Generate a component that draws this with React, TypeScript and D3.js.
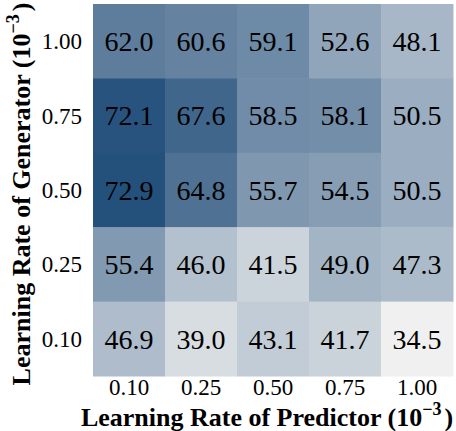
import React, { useEffect, useRef } from 'react';
import * as d3 from 'd3';

const predictorRates = ['0.10', '0.25', '0.50', '0.75', '1.00'];
const generatorRates = ['1.00', '0.75', '0.50', '0.25', '0.10'];

// rows follow generatorRates (top to bottom), columns follow predictorRates
const row100 = [62.0, 60.6, 59.1, 52.6, 48.1];
const row075 = [72.1, 67.6, 58.5, 58.1, 50.5];
const row050 = [72.9, 64.8, 55.7, 54.5, 50.5];
const row025 = [55.4, 46.0, 41.5, 49.0, 47.3];
const row010 = [46.9, 39.0, 43.1, 41.7, 34.5];

const rows = [row100, row075, row050, row025, row010];

const width = 456;
const height = 431;
const serif = 'Liberation Serif, Times New Roman, Times, serif';

const App: React.FC = () => {
  const svgRef = useRef<SVGSVGElement>(null);

  useEffect(() => {
    if (!svgRef.current) return;
    const svg = d3.select(svgRef.current);
    svg.selectAll('*').remove();

    const margin = { top: 4, right: 3, bottom: 55, left: 93 };
    const innerWidth = width - margin.left - margin.right;
    const innerHeight = height - margin.top - margin.bottom;

    const g = svg.append('g')
      .attr('transform', `translate(${margin.left},${margin.top})`)
      .attr('font-family', serif);

    const x = d3.scaleBand().domain(predictorRates).range([0, innerWidth]);
    const y = d3.scaleBand().domain(generatorRates).range([0, innerHeight]);

    const cells = rows.flatMap((r, i) =>
      r.map((v, j) => ({ row: generatorRates[i], col: predictorRates[j], value: v })));

    const color = d3.scaleLinear<string>()
      .domain([34.5, 72.9])
      .range(['#f0f0f0', '#24507c'])
      .interpolate(d3.interpolateRgb);

    g.selectAll('.cell')
      .data(cells)
      .enter().append('rect')
      .attr('class', 'cell')
      .attr('x', d => x(d.col) || 0)
      .attr('y', d => y(d.row) || 0)
      .attr('width', x.bandwidth() + 0.5)
      .attr('height', y.bandwidth() + 0.5)
      .attr('fill', d => color(d.value));

    g.selectAll('.val')
      .data(cells)
      .enter().append('text')
      .attr('class', 'val')
      .attr('x', d => (x(d.col) || 0) + x.bandwidth() / 2)
      .attr('y', d => (y(d.row) || 0) + y.bandwidth() / 2)
      .attr('text-anchor', 'middle')
      .attr('dy', '0.35em')
      .attr('font-family', serif)
      .attr('font-size', 28)
      .attr('fill', '#000')
      .text(d => d.value.toFixed(1));

    // y tick labels
    g.selectAll('.ytick')
      .data(generatorRates)
      .enter().append('text')
      .attr('class', 'ytick')
      .attr('x', -11)
      .attr('y', d => (y(d) || 0) + y.bandwidth() / 2)
      .attr('dy', '0.35em')
      .attr('text-anchor', 'end')
      .attr('font-family', serif)
      .attr('font-size', 23)
      .text(d => d);

    // x tick labels
    g.selectAll('.xtick')
      .data(predictorRates)
      .enter().append('text')
      .attr('class', 'xtick')
      .attr('x', d => (x(d) || 0) + x.bandwidth() / 2)
      .attr('y', innerHeight + 19)
      .attr('text-anchor', 'middle')
      .attr('font-family', serif)
      .attr('font-size', 23)
      .text(d => d);

    // x axis title
    const xt = svg.append('text')
      .attr('x', 267)
      .attr('y', 426)
      .attr('text-anchor', 'middle')
      .attr('font-family', serif)
      .attr('font-size', 26)
      .attr('font-weight', 'bold');
    xt.append('tspan').text('Learning Rate of Predictor (10');
    xt.append('tspan').attr('dy', -11).attr('font-size', 18).text('\u22123');
    xt.append('tspan').attr('dy', 11).attr('dx', 3).text(')');

    // y axis title
    const yt = svg.append('text')
      .attr('transform', `translate(30,194) rotate(-90)`)
      .attr('text-anchor', 'middle')
      .attr('font-family', serif)
      .attr('font-size', 26)
      .attr('font-weight', 'bold');
    yt.append('tspan').text('Learning Rate of Generator (10');
    yt.append('tspan').attr('dy', -11).attr('font-size', 18).text('\u22123');
    yt.append('tspan').attr('dy', 11).attr('dx', 3).text(')');
  }, []);

  return (
    <svg ref={svgRef} width={width} height={height}
      style={{ position: 'absolute', left: 0, top: 0, background: 'white' }} />
  );
};

export default App;
